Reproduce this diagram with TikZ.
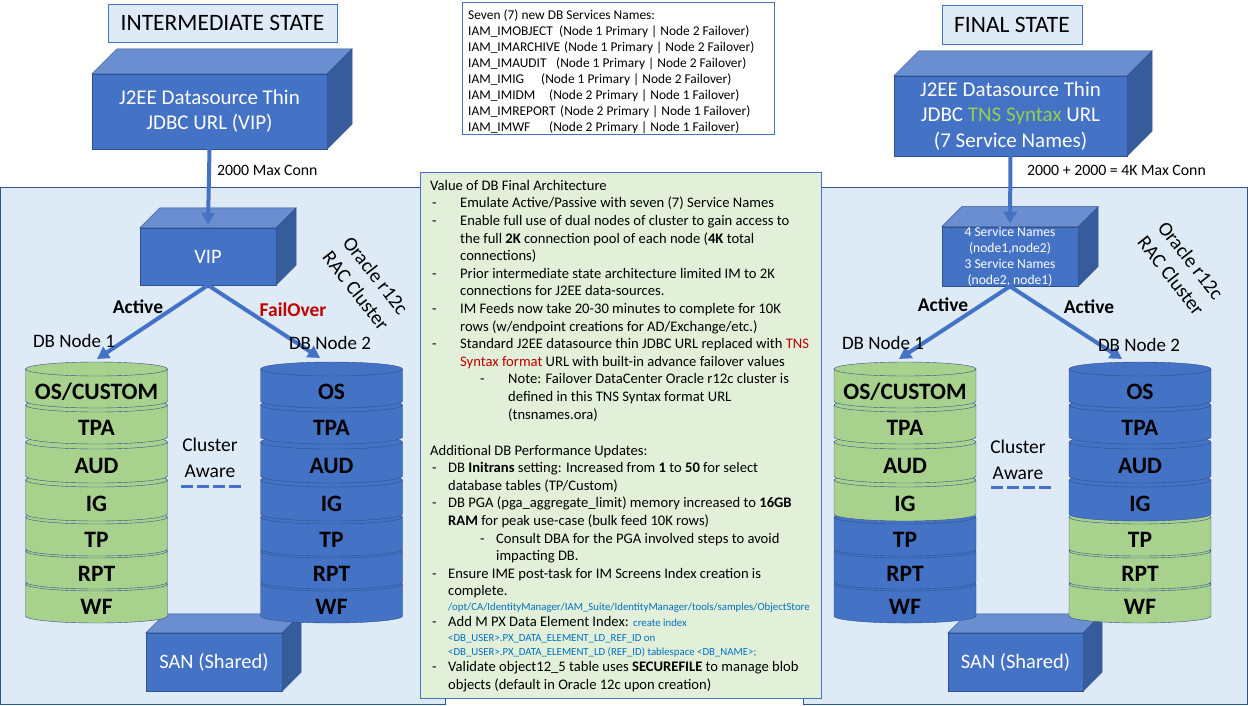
\documentclass[tikz,border=0pt]{standalone}
\usepackage{fontspec}
\setmainfont{Carlito}
\usetikzlibrary{arrows.meta}
\definecolor{accent}{HTML}{4472C4}
\definecolor{cubetopc}{HTML}{6A8ED0}
\definecolor{cubesidec}{HTML}{365C9C}
\definecolor{cubeline}{HTML}{2F528F}
\definecolor{panelblue}{HTML}{DEEBF7}
\definecolor{panelline}{HTML}{2F5597}
\definecolor{notegreen}{HTML}{E2F0D9}
\definecolor{slabgreen}{HTML}{A9D18E}
\definecolor{darkred}{HTML}{C00000}
\definecolor{tnsgreen}{HTML}{92D050}
\definecolor{codeblue}{HTML}{0070C0}

\newcommand{\fsz}[2]{\fontsize{#1}{#2}\selectfont}
% indents of the note text
\newcommand{\nbul}{\makebox[30pt][l]{\hspace{2pt}-}}
\newcommand{\nind}{\hspace*{30pt}}
\newcommand{\nsub}{\hspace*{50pt}\makebox[28pt][l]{-}}
\newcommand{\nsubind}{\hspace*{78pt}}
\newcommand{\pbul}{\makebox[18pt][l]{\hspace{2pt}-}}
\newcommand{\pind}{\hspace*{18pt}}
\newcommand{\psub}{\hspace*{50pt}\makebox[16pt][l]{-}}
\newcommand{\psubind}{\hspace*{66pt}}
\newcommand{\tns}[1]{\textcolor{darkred}{#1}}
\newcommand{\codetxt}[1]{{\color{codeblue}\fsz{10.8}{12}#1}}

\tikzset{
  panel/.style={fill=panelblue, draw=panelline, line width=1pt},
  notebox/.style={fill=notegreen, draw=accent, line width=1pt},
  titlebox/.style={fill=panelblue, draw=accent, line width=1pt, inner sep=0pt, font=\fsz{23.5}{28}},
  cubefront/.style={fill=accent, draw=cubeline, text=white, align=center, inner sep=0pt},
  cubetop/.style={fill=cubetopc, draw=cubeline},
  cubeside/.style={fill=cubesidec, draw=cubeline},
  connarrow/.style={accent, line width=4pt, -{Triangle[length=12pt,width=13pt]}},
  slabtext/.style={font=\bfseries\fsz{23.5}{27}, inner sep=0pt},
  nodelabel/.style={font=\fsz{19}{23}},
  pathlabel/.style={font=\bfseries\fsz{19.5}{23}},
  racname/.style={font=\fsz{20}{25}, align=center, rotate=-52},
  connlabel/.style={font=\fsz{15.8}{18}, anchor=west, inner sep=0pt},
  awaredash/.style={accent, line width=3pt, dash pattern=on 11.5pt off 4.5pt},
  notetext/.style={font=\fsz{14.6}{17.6}, align=left, inner sep=0pt, anchor=north west},
}

% side and top face of a box node
\newcommand{\cubefaces}[2]{%
  \filldraw[cubetop] (#1.north west) -- ++(#2,-#2) -- ([shift={(#2,-#2)}]#1.north east) -- (#1.north east) -- cycle;
  \filldraw[cubeside] (#1.north east) -- ++(#2,-#2) -- ([shift={(#2,-#2)}]#1.south east) -- (#1.south east) -- cycle;}

% one slab of a db cylinder: name, cx, top, bottom, fill, label
\newcommand{\dbslab}[6]{%
  \filldraw[fill=#5, draw=cubeline] (#2-71,#3) -- (#2-71,#4)
    arc[start angle=180, end angle=360, x radius=71pt, y radius=7pt] -- (#2+71,#3)
    arc[start angle=0, end angle=180, x radius=71pt, y radius=7pt] -- cycle;
  \draw[cubeline] (#2-71,#3) arc[start angle=180, end angle=360, x radius=71pt, y radius=7pt];
  \node[slabtext] (#1) at (#2,{(#3+#4)/2+7}) {#6};}

% whole cylinder: prefix, cx, upper fill, lower fill, top label
\newcommand{\dbstack}[5]{%
  \dbslab{#1-wf}{#2}{584}{616}{#4}{WF}
  \dbslab{#1-rpt}{#2}{551}{582}{#4}{RPT}
  \dbslab{#1-tp}{#2}{517}{549}{#4}{TP}
  \dbslab{#1-ig}{#2}{480}{514}{#3}{IG}
  \dbslab{#1-aud}{#2}{442}{476}{#3}{AUD}
  \dbslab{#1-tpa}{#2}{405}{437}{#3}{TPA}
  \dbslab{#1-os}{#2}{369}{401}{#3}{#5}}

\begin{document}
\begin{tikzpicture}[x=1pt,y=-1pt]
\useasboundingbox (0,0) rectangle (1248,705);

% cluster panels and notes
\draw[panel] (0.5,187) rectangle (445,704);
\draw[panel] (803,187) rectangle (1247.5,704);
\draw[notebox] (420,172) rectangle (821,698.5);

% titles
\node[titlebox, minimum width=229, minimum height=38] (tinter) at (222.5,23) {INTERMEDIATE STATE};
\node[titlebox, minimum width=140, minimum height=39] (tfinal) at (1012,24.5) {FINAL STATE};

% service names list
\draw[accent, fill=white] (462,2) rectangle (774,134);
\node[font=\fsz{13.4}{16}, align=left, inner sep=0pt, anchor=north west] (svclist) at (468,9) {%
Seven (7) new DB Services Names:\\
\makebox[91pt][l]{IAM\_IMOBJECT}(Node 1 Primary | Node 2 Failover)\\
\makebox[96pt][l]{IAM\_IMARCHIVE}(Node 1 Primary | Node 2 Failover)\\
\makebox[88pt][l]{IAM\_IMAUDIT}(Node 1 Primary | Node 2 Failover)\\
\makebox[73pt][l]{IAM\_IMIG}(Node 1 Primary | Node 2 Failover)\\
\makebox[81pt][l]{IAM\_IMIDM}(Node 2 Primary | Node 1 Failover)\\
\makebox[92pt][l]{IAM\_IMREPORT}(Node 2 Primary | Node 1 Failover)\\
\makebox[81pt][l]{IAM\_IMWF}(Node 2 Primary | Node 1 Failover)};

% intermediate state
\node[cubefront, font=\fsz{21}{25}, minimum width=235, minimum height=75] (jleft) at (209.5,111.5) {J2EE Datasource Thin\\JDBC URL (VIP)};
\cubefaces{jleft}{25}
\node[cubefront, font=\fsz{20.5}{25}, minimum width=136, minimum height=57] (vipl) at (208,256.5) {VIP};
\cubefaces{vipl}{20}
\draw[connarrow] (jleft.south) -- ([yshift=3pt]vipl.north);
\node[connlabel] (maxl) at (217,170) {2000 Max Conn};

\node[cubefront, font=\fsz{20.5}{25}, minimum width=136, minimum height=58] (sanl) at (214,662) {SAN (Shared)};
\cubefaces{sanl}{19}
\dbstack{l1}{96.5}{slabgreen}{slabgreen}{OS/CUSTOM}
\dbstack{l2}{331.5}{accent}{accent}{OS}
\coordinate (l1top) at (97,359);
\coordinate (l2top) at (320,358);
\draw[connarrow] (vipl.south) -- (l1top);
\draw[connarrow] (vipl.south) -- (l2top);
\node[pathlabel] (actl) at (138,307) {Active};
\node[pathlabel, text=darkred] (faill) at (293,310) {FailOver};
\node[nodelabel] (dbl1) at (74,341) {DB Node 1};
\node[nodelabel] (dbl2) at (330,343) {DB Node 2};
\node[racname] (racl) at (366,283) {Oracle r12c\\RAC Cluster};
\node[nodelabel, align=center, font=\fsz{19.5}{26}] (awl) at (210,458) {Cluster\\Aware};
\draw[awaredash] (181,486) -- (241,486);

% final state
\node[cubefront, font=\fsz{21}{25.5}, minimum width=233, minimum height=80] (jright) at (1010.5,116) {J2EE Datasource Thin\\JDBC \textcolor{tnsgreen}{TNS Syntax} URL\\(7 Service Names)};
\cubefaces{jright}{25}
\node[cubefront, font=\fsz{13.6}{16}, minimum width=136, minimum height=57] (svcr) at (1010,256.5) {4 Service Names\\(node1,node2)\\3 Service Names\\(node2, node1)};
\cubefaces{svcr}{20}
\draw[connarrow] (jright.south) -- ([yshift=3pt]svcr.north);
\node[connlabel] (maxr) at (1027,170) {2000 + 2000 = 4K Max Conn};

\node[cubefront, font=\fsz{20.5}{25}, minimum width=135, minimum height=58] (sanr) at (1015.5,662) {SAN (Shared)};
\cubefaces{sanr}{19}
\dbstack{r1}{905}{slabgreen}{accent}{OS/CUSTOM}
\dbstack{r2}{1140}{accent}{slabgreen}{OS}
\coordinate (r1top) at (899,359);
\coordinate (r2top) at (1122,359);
\draw[connarrow] (svcr.south) -- (r1top);
\draw[connarrow] (svcr.south) -- (r2top);
\node[pathlabel] (actr1) at (943,305) {Active};
\node[pathlabel] (actr2) at (1089,307) {Active};
\node[nodelabel] (dbr1) at (883,343) {DB Node 1};
\node[nodelabel] (dbr2) at (1139,345) {DB Node 2};
\node[racname] (racr) at (1181,268) {Oracle r12c\\RAC Cluster};
\node[nodelabel, align=center, font=\fsz{19.5}{26}] (awr) at (1018,460) {Cluster\\Aware};
\draw[awaredash] (991,487) -- (1051,487);

% notes
\node[notetext] (notes) at (430,180) {%
Value of DB Final Architecture\\
\nbul Emulate Active/Passive with seven (7) Service Names\\
\nbul Enable full use of dual nodes of cluster to gain access to\\
\nind the full \textbf{2K} connection pool of each node (\textbf{4K} total\\
\nind connections)\\
\nbul Prior intermediate state architecture limited IM to 2K\\
\nind connections for J2EE data-sources.\\
\nbul IM Feeds now take 20-30 minutes to complete for 10K\\
\nind rows (w/endpoint creations for AD/Exchange/etc.)\\
\nbul Standard J2EE datasource thin JDBC URL replaced with \tns{TNS}\\
\nind \tns{Syntax format} URL with built-in advance failover values\\
\nsub Note: Failover DataCenter Oracle r12c cluster is\\
\nsubind defined in this TNS Syntax format URL\\
\nsubind (tnsnames.ora)\\[18.4pt]
Additional DB Performance Updates:\\
\pbul DB \textbf{Initrans} setting: Increased from \textbf{1} to \textbf{50} for select\\
\pind database tables (TP/Custom)\\
\pbul DB PGA (pga\_aggregate\_limit) memory increased to \textbf{16GB}\\
\pind \textbf{RAM} for peak use-case (bulk feed 10K rows)\\
\psub Consult DBA for the PGA involved steps to avoid\\
\psubind impacting DB.\\
\pbul Ensure IME post-task for IM Screens Index creation is\\
\pind complete.\\[-2.6pt]
\pind \codetxt{/opt/CA/IdentityManager/IAM\_Suite/IdentityManager/tools/samples/ObjectStore}\\[-1.6pt]
\pbul Add M PX Data Element Index: \codetxt{create index}\\[-2.6pt]
\pind \codetxt{<DB\_USER>.PX\_DATA\_ELEMENT\_LD\_REF\_ID on}\\[-3.6pt]
\pind \codetxt{<DB\_USER>.PX\_DATA\_ELEMENT\_LD (REF\_ID) tablespace <DB\_NAME>;}\\[-1.6pt]
\pbul Validate object12\_5 table uses \textbf{SECUREFILE} to manage blob\\
\pind objects (default in Oracle 12c upon creation)};
\end{tikzpicture}
\end{document}
